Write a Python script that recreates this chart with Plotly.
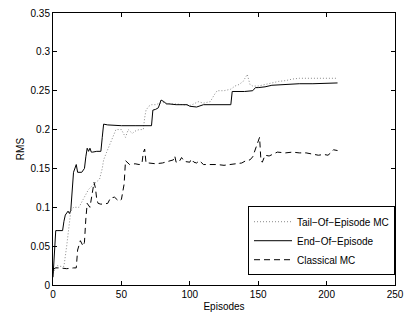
import plotly.graph_objects as go

# End-Of-Episode (solid)
end_x = [0, 2, 3, 7, 8, 9, 11, 12, 13, 14, 15, 17, 18, 21, 23, 24, 25, 26, 27, 28, 29, 32, 35, 36, 37,
         40, 50, 60, 70, 72, 73, 75, 77, 79, 81, 83, 85, 90, 95, 98, 100, 105, 110, 120, 130, 131,
         140, 146, 148, 150, 155, 160, 170, 180, 190, 200, 208]
end_y = [0.01, 0.07, 0.07, 0.07, 0.082, 0.09, 0.095, 0.092, 0.096, 0.12, 0.145, 0.155, 0.145, 0.145,
         0.15, 0.165, 0.176, 0.172, 0.176, 0.171, 0.171, 0.172, 0.172, 0.19, 0.207, 0.206, 0.205,
         0.205, 0.205, 0.205, 0.225, 0.226, 0.228, 0.238, 0.236, 0.233, 0.233, 0.232, 0.232, 0.232,
         0.23, 0.229, 0.232, 0.232, 0.232, 0.249, 0.249, 0.25, 0.254, 0.254, 0.255, 0.257, 0.258,
         0.259, 0.259, 0.26, 0.26]

# Tail-Of-Episode MC (dotted)
tail_x = [0, 3, 5, 8, 10, 12, 13, 15, 19, 22, 26, 30, 34, 36, 37, 39, 41, 44, 46, 48, 50, 53, 55, 58,
          60, 63, 66, 67, 68, 70, 72, 75, 80, 85, 90, 95, 100, 103, 106, 110, 115, 118, 120, 125,
          130, 133, 136, 139, 141, 142, 144, 146, 150, 155, 160, 165, 170, 175, 180, 190, 200, 208]
tail_y = [0.015, 0.025, 0.024, 0.024, 0.05, 0.086, 0.095, 0.1, 0.1, 0.11, 0.123, 0.13, 0.136, 0.15,
          0.161, 0.17, 0.179, 0.19, 0.2, 0.2, 0.2, 0.19, 0.2, 0.195, 0.198, 0.2, 0.2, 0.215, 0.225,
          0.23, 0.232, 0.232, 0.235, 0.233, 0.233, 0.232, 0.231, 0.233, 0.236, 0.234, 0.236, 0.245,
          0.25, 0.25, 0.252, 0.256, 0.258, 0.262, 0.268, 0.271, 0.258, 0.256, 0.256, 0.258, 0.26,
          0.262, 0.263, 0.265, 0.266, 0.266, 0.266, 0.266]

# Classical MC (dashed)
cls_x = [0, 2, 5, 10, 15, 17, 18, 20, 22, 23, 24, 25, 27, 29, 30, 31, 32, 33, 35, 40, 42, 45, 48, 50,
         52, 53, 54, 56, 60, 63, 65, 66, 67, 68, 70, 75, 80, 85, 88, 89, 90, 92, 94, 96, 100, 101,
         103, 105, 107, 110, 115, 120, 125, 130, 135, 138, 141, 144, 146, 148, 150, 151, 152, 153,
         155, 158, 164, 170, 175, 180, 185, 190, 194, 198, 201, 203, 205, 208]
cls_y = [0.02, 0.022, 0.022, 0.021, 0.022, 0.022, 0.045, 0.057, 0.05, 0.055, 0.085, 0.105, 0.1, 0.12,
         0.132, 0.125, 0.11, 0.105, 0.104, 0.105, 0.112, 0.113, 0.108, 0.11, 0.13, 0.16, 0.158,
         0.155, 0.156, 0.155, 0.156, 0.17, 0.175, 0.157, 0.157, 0.156, 0.157, 0.159, 0.161, 0.166,
         0.158, 0.158, 0.164, 0.159, 0.158, 0.162, 0.158, 0.157, 0.16, 0.155, 0.155, 0.155, 0.154,
         0.155, 0.156, 0.157, 0.16, 0.161, 0.165, 0.174, 0.185, 0.19, 0.16, 0.158, 0.167, 0.166,
         0.171, 0.17, 0.171, 0.17, 0.17, 0.168, 0.167, 0.168, 0.167, 0.17, 0.174, 0.173]

x_ticks = [0, 50, 100, 150, 200, 250]
y_ticks = [0, 0.05, 0.1, 0.15, 0.2, 0.25, 0.3, 0.35]
y_labels = ["0", "0.05", "0.1", "0.15", "0.2", "0.25", "0.3", "0.35"]

font = dict(family="Liberation Sans, Arial, sans-serif", size=10, color="#000")

fig = go.Figure()
fig.add_trace(go.Scatter(x=tail_x, y=tail_y, mode="lines", name="Tail\u2212Of\u2212Episode MC",
                         line=dict(color="#8a8a8a", width=1, dash="1px,2px")))
fig.add_trace(go.Scatter(x=end_x, y=end_y, mode="lines", name="End\u2212Of\u2212Episode",
                         line=dict(color="#000", width=1)))
fig.add_trace(go.Scatter(x=cls_x, y=cls_y, mode="lines", name="Classical MC",
                         line=dict(color="#000", width=1, dash="6px,4px")))

axis_common = dict(showline=True, linecolor="#000", linewidth=1, mirror="allticks",
                   ticks="inside", ticklen=4, tickcolor="#000", showgrid=False, zeroline=False,
                   tickfont=font, ticklabeloverflow="allow")
fig.update_xaxes(range=[0, 250], tickvals=x_ticks, title=dict(text="Episodes", font=font, standoff=3),
                 **axis_common)
fig.update_yaxes(range=[0, 0.35], tickvals=y_ticks, ticktext=y_labels,
                 title=dict(text="RMS", font=font, standoff=4), **axis_common)

fig.update_layout(
    width=411, height=320,
    margin=dict(l=53, r=7, t=7, b=35),
    paper_bgcolor="white", plot_bgcolor="white",
    font=font,
    legend=dict(x=1.0, y=0.036, xanchor="right", yanchor="bottom",
                bordercolor="#000", borderwidth=1, bgcolor="white",
                font=font, tracegroupgap=0, itemwidth=38),
)

fig.write_html("out.html")
